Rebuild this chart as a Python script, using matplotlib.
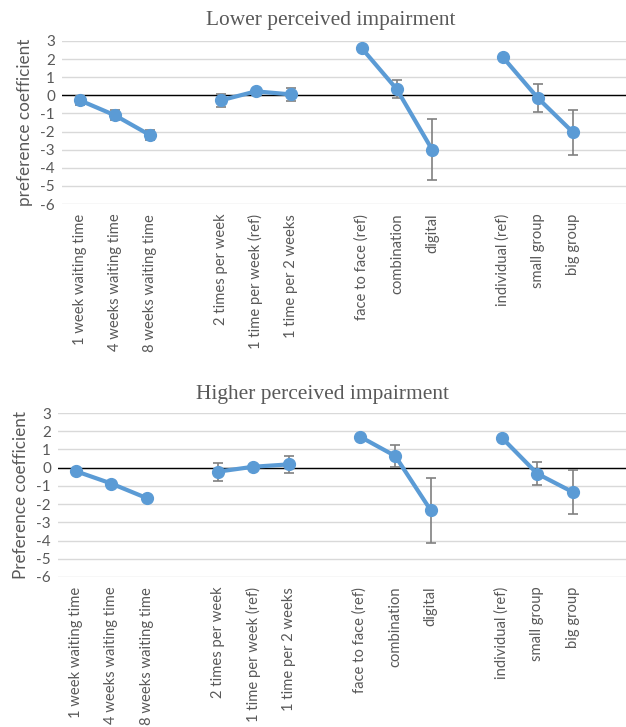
import numpy as np
import matplotlib
matplotlib.use("Agg")
import matplotlib.pyplot as plt

# Attribute levels, grouped by attribute
groups = [
    ["1 week waiting time", "4 weeks waiting time", "8 weeks waiting time"],
    ["2 times per week", "1 time per week (ref)", "1 time per 2 weeks"],
    ["face to face (ref)", "combination", "digital"],
    ["individual (ref)", "small group", "big group"],
]

# Preference coefficients and error half-widths
lower_vals = [-0.27, -1.1, -2.2, -0.28, 0.22, 0.05, 2.61, 0.33, -3.0, 2.12, -0.15, -2.05]
lower_err = [0.25, 0.27, 0.28, 0.35, 0.0, 0.38, 0.0, 0.5, 1.67, 0.0, 0.75, 1.24]
higher_vals = [-0.19, -0.87, -1.67, -0.22, 0.05, 0.18, 1.71, 0.64, -2.34, 1.65, -0.33, -1.34]
higher_err = [0.1, 0.1, 0.1, 0.5, 0.0, 0.46, 0.0, 0.6, 1.8, 0.0, 0.64, 1.19]

titles = ["Lower perceived impairment", "Higher perceived impairment"]
ylabels = ["preference coefficient", "Preference coefficient"]
yticks = list(range(-6, 4))

W, H = 626, 727
fig = plt.figure(figsize=(W / 100, H / 100), dpi=100)

LINE = "#5b9bd5"
GRID = "#d9d9d9"
TXT = "#595959"
sans = ["Lato", "DejaVu Sans"]
serif = ["Liberation Serif", "DejaVu Serif"]

panels = [
    dict(left=62, top=41, bottom=204, vals=lower_vals, err=lower_err,
         title_x=331, title_y=20),
    dict(left=58, top=413, bottom=577, vals=higher_vals, err=higher_err,
         title_x=323, title_y=394),
]

for p, title, ylab in zip(panels, titles, ylabels):
    ax = fig.add_axes([p["left"] / W, 1 - p["bottom"] / H,
                       (W - p["left"]) / W, (p["bottom"] - p["top"]) / H])
    labels, positions = [], []
    slot = 0
    idx = 0
    for g in groups:
        xs = []
        for lab in g:
            labels.append(lab)
            positions.append(slot)
            xs.append(slot)
            slot += 1
        ys = p["vals"][idx:idx + len(g)]
        es = p["err"][idx:idx + len(g)]
        ax.errorbar(xs, ys, yerr=es, fmt="none", ecolor="#808080",
                    elinewidth=1.2, capsize=3.5, capthick=1.2, zorder=3)
        ax.plot(xs, ys, color=LINE, lw=3, marker="o", ms=8.5, zorder=4)
        idx += len(g)
        slot += 1  # empty slot after each attribute

    ax.set_xlim(-0.5, slot - 0.5)
    ax.set_ylim(-6, 3)
    ax.set_yticks(yticks)
    ax.set_yticklabels([str(t) for t in yticks], family=sans, fontsize=11, color=TXT)
    ax.set_xticks(positions)
    ax.set_xticklabels(labels, rotation=90, family=sans, fontsize=10.6, color=TXT)
    ax.tick_params(length=0, pad=5)
    ax.tick_params(axis="x", pad=7)
    ax.grid(axis="y", color=GRID, lw=1)
    ax.set_axisbelow(True)
    ax.axhline(0, color="black", lw=1, zorder=2)
    for s in ax.spines.values():
        s.set_visible(False)
    ax.set_ylabel(ylab, family=sans, fontsize=12.3, color=TXT, labelpad=5)
    ax.patch.set_alpha(0)
    fig.text(p["title_x"] / W, 1 - p["title_y"] / H, title,
             family=serif, fontsize=15.4, color=TXT, ha="center", va="center")

fig.savefig("out.png", dpi=100, facecolor="white")
